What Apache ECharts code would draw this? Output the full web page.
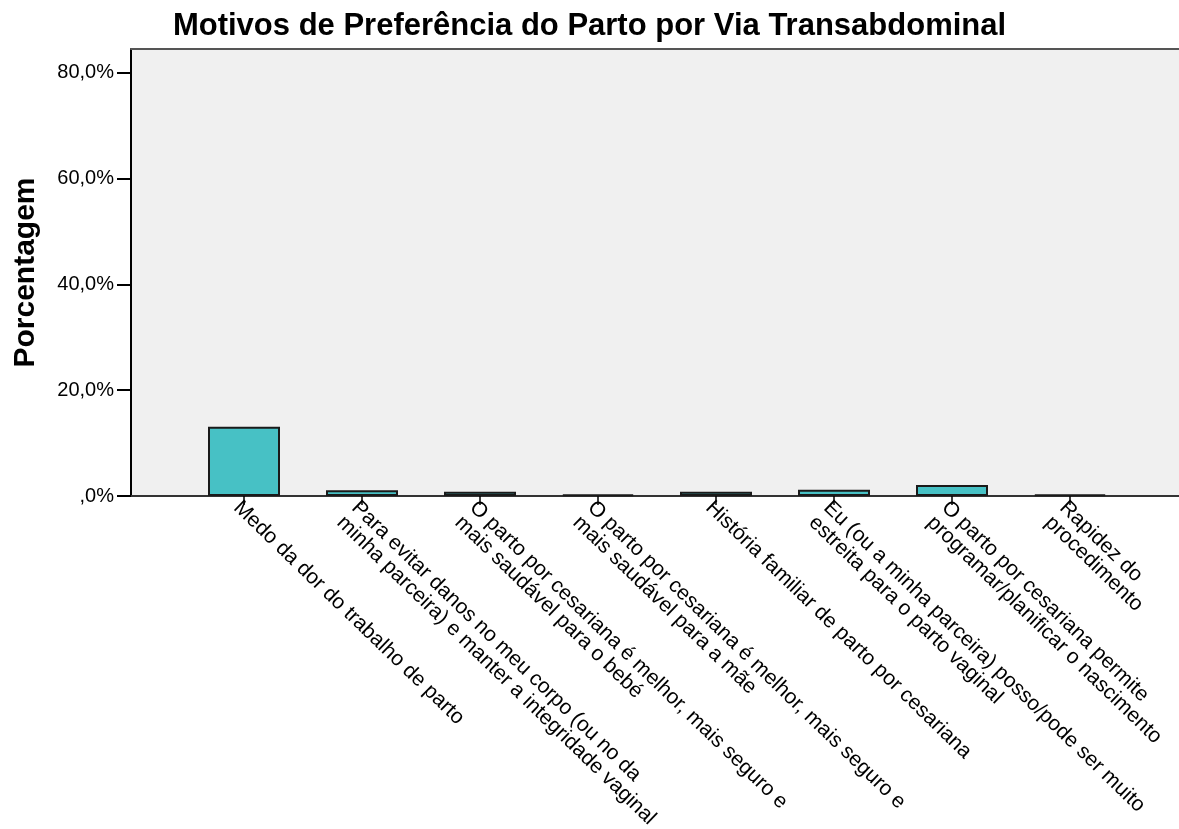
<!DOCTYPE html>
<html>
<head>
<meta charset="utf-8">
<script src="https://cdn.jsdelivr.net/npm/echarts@6/dist/echarts.min.js"></script>
<style>
html,body{margin:0;padding:0;background:#fff;}
#chart{width:1179px;height:829px;}
</style>
</head>
<body>
<div id="chart"></div>
<script>
const titleText = 'Motivos de Preferência do Parto por Via Transabdominal';
const yAxisName = 'Porcentagem';
const categories = [
  'Medo da dor do trabalho de parto',
  'Para evitar danos no meu corpo (ou no da\nminha parceira) e manter a integridade vaginal',
  'O parto por cesariana é melhor, mais seguro e\nmais saudável para o bebé',
  'O parto por cesariana é melhor, mais seguro e\nmais saudável para a mãe',
  'História familiar de parto por cesariana',
  'Eu (ou a minha parceira) posso/pode ser muito\nestreita para o parto vaginal',
  'O parto por cesariana permite\nprogramar/planificar o nascimento',
  'Rapidez do\nprocedimento'
];
const percentages = [13.1, 1.1, 0.8, 0.3, 0.8, 1.2, 2.1, 0.3];
const yTickValues = [0, 20, 40, 60, 80];
const yTickLabels = [',0%', '20,0%', '40,0%', '60,0%', '80,0%'];

const FONT = 'Liberation Sans, Arial, sans-serif';
const Y_MAX = 84.5;

const chart = echarts.init(document.getElementById('chart'), null, {renderer: 'canvas'});
chart.setOption({
  animation: false,
  backgroundColor: '#ffffff',
  title: {
    text: titleText,
    left: 'center',
    top: 6,
    textStyle: {fontFamily: FONT, fontSize: 31, fontWeight: 'bold', color: '#000'}
  },
  grid: [
    {left: 131, right: -5, top: 49, bottom: 333, show: true, backgroundColor: '#F0F0F0', borderWidth: 0,
     containLabel: false, outerBoundsMode: 'none'},
    {left: 185, width: 944, top: 49, bottom: 333, containLabel: false, outerBoundsMode: 'none'}
  ],
  xAxis: [
    {gridIndex: 0, type: 'value', position: 'top', min: 0, max: 1,
     axisLine: {show: true, onZero: false, lineStyle: {color: '#555', width: 2}},
     axisTick: {show: false}, axisLabel: {show: false}, splitLine: {show: false}},
    {gridIndex: 0, type: 'value', position: 'bottom', min: 0, max: 1,
     axisLine: {show: true, onZero: false, lineStyle: {color: '#333', width: 2}},
     axisTick: {show: false}, axisLabel: {show: false}, splitLine: {show: false}},
    {gridIndex: 1, type: 'category', data: categories, position: 'bottom',
     axisLine: {show: false, onZero: false},
     axisTick: {show: true, alignWithLabel: true, length: 9, lineStyle: {color: '#000', width: 1.5}},
     axisLabel: {
       interval: 0, rotate: -44, margin: 1, align: 'left', verticalAlign: 'top',
       fontFamily: FONT, fontSize: 21, lineHeight: 21, color: '#000'
     },
     splitLine: {show: false}}
  ],
  yAxis: [
    {gridIndex: 0, type: 'value', min: 0, max: Y_MAX, interval: 20,
     name: yAxisName, nameLocation: 'middle', nameGap: 90,
     nameTextStyle: {fontFamily: FONT, fontSize: 30, fontWeight: 'bold', color: '#000'},
     axisLine: {show: true, lineStyle: {color: '#000', width: 2}},
     axisTick: {show: true, length: 14, customValues: yTickValues, lineStyle: {color: '#000', width: 2}},
     axisLabel: {
       margin: 17, fontFamily: FONT, fontSize: 20, color: '#000',
       customValues: yTickValues,
       formatter: function (v) { const i = yTickValues.indexOf(v); return i >= 0 ? yTickLabels[i] : ''; }
     },
     splitLine: {show: false}},
    {gridIndex: 1, type: 'value', min: 0, max: Y_MAX, show: false}
  ],
  series: [{
    type: 'bar',
    xAxisIndex: 2,
    yAxisIndex: 1,
    data: percentages,
    barWidth: 72,
    itemStyle: {color: '#47C1C5', borderColor: '#1a1a1a', borderWidth: 2}
  }]
});
</script>
</body>
</html>
